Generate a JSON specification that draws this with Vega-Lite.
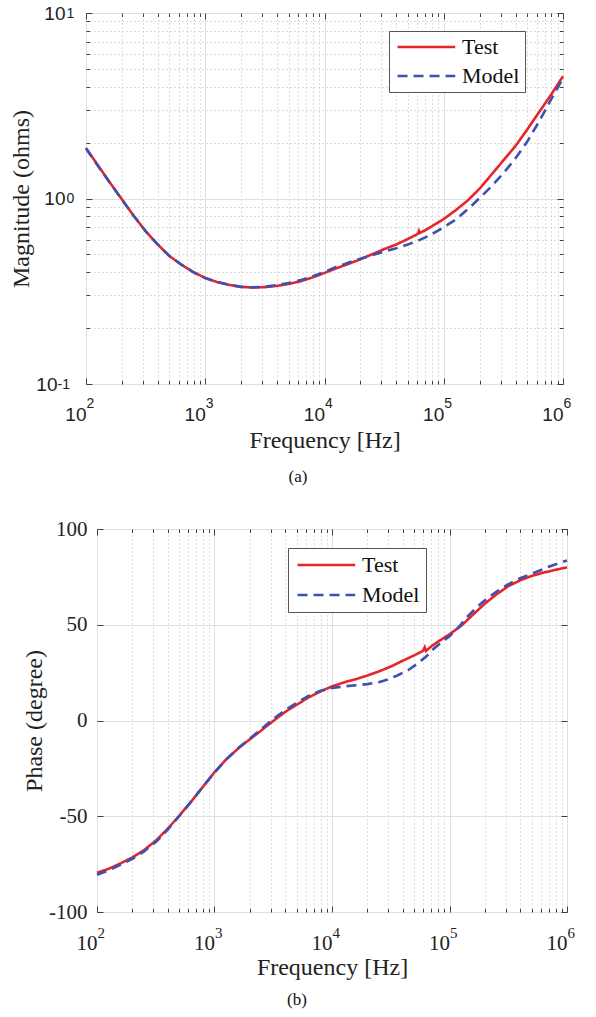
{
"$schema": "https://vega.github.io/schema/vega-lite/v6.json",
"padding": {"left": 0, "top": 3, "right": 0, "bottom": 0},
"background": "white",
"datasets": {
"mag": [
{"f":100,"v":1.87,"s":"Test"},{"f":125,"v":1.52,"s":"Test"},{"f":160,"v":1.21,"s":"Test"},{"f":200,"v":0.99,"s":"Test"},{"f":250,"v":0.81,"s":"Test"},{"f":320,"v":0.66,"s":"Test"},{"f":400,"v":0.565,"s":"Test"},{"f":500,"v":0.49,"s":"Test"},{"f":630,"v":0.44,"s":"Test"},{"f":800,"v":0.4,"s":"Test"},{"f":1000,"v":0.373,"s":"Test"},{"f":1250,"v":0.355,"s":"Test"},{"f":1600,"v":0.342,"s":"Test"},{"f":2000,"v":0.334,"s":"Test"},{"f":2500,"v":0.331,"s":"Test"},{"f":3200,"v":0.333,"s":"Test"},{"f":4000,"v":0.338,"s":"Test"},{"f":5000,"v":0.346,"s":"Test"},{"f":6300,"v":0.358,"s":"Test"},{"f":8000,"v":0.376,"s":"Test"},{"f":10000,"v":0.397,"s":"Test"},{"f":12500,"v":0.42,"s":"Test"},{"f":16000,"v":0.445,"s":"Test"},{"f":20000,"v":0.47,"s":"Test"},{"f":25000,"v":0.5,"s":"Test"},{"f":32000,"v":0.535,"s":"Test"},{"f":40000,"v":0.565,"s":"Test"},{"f":50000,"v":0.605,"s":"Test"},{"f":58000,"v":0.635,"s":"Test"},{"f":61000,"v":0.648,"s":"Test"},{"f":62000,"v":0.668,"s":"Test"},{"f":63000,"v":0.652,"s":"Test"},{"f":70000,"v":0.675,"s":"Test"},{"f":80000,"v":0.71,"s":"Test"},{"f":100000,"v":0.775,"s":"Test"},{"f":126000,"v":0.865,"s":"Test"},{"f":160000,"v":0.98,"s":"Test"},{"f":200000,"v":1.13,"s":"Test"},{"f":250000,"v":1.34,"s":"Test"},{"f":320000,"v":1.62,"s":"Test"},{"f":400000,"v":1.92,"s":"Test"},{"f":500000,"v":2.35,"s":"Test"},{"f":630000,"v":2.92,"s":"Test"},{"f":800000,"v":3.65,"s":"Test"},{"f":1000000,"v":4.56,"s":"Test"},
{"f":100,"v":1.86,"s":"Model"},{"f":125,"v":1.51,"s":"Model"},{"f":160,"v":1.205,"s":"Model"},{"f":200,"v":0.985,"s":"Model"},{"f":250,"v":0.81,"s":"Model"},{"f":320,"v":0.66,"s":"Model"},{"f":400,"v":0.565,"s":"Model"},{"f":500,"v":0.49,"s":"Model"},{"f":630,"v":0.44,"s":"Model"},{"f":800,"v":0.4,"s":"Model"},{"f":1000,"v":0.373,"s":"Model"},{"f":1250,"v":0.355,"s":"Model"},{"f":1600,"v":0.342,"s":"Model"},{"f":2000,"v":0.334,"s":"Model"},{"f":2500,"v":0.332,"s":"Model"},{"f":3200,"v":0.335,"s":"Model"},{"f":4000,"v":0.341,"s":"Model"},{"f":5000,"v":0.35,"s":"Model"},{"f":6300,"v":0.363,"s":"Model"},{"f":8000,"v":0.381,"s":"Model"},{"f":10000,"v":0.402,"s":"Model"},{"f":12500,"v":0.427,"s":"Model"},{"f":16000,"v":0.452,"s":"Model"},{"f":20000,"v":0.474,"s":"Model"},{"f":25000,"v":0.495,"s":"Model"},{"f":32000,"v":0.518,"s":"Model"},{"f":40000,"v":0.54,"s":"Model"},{"f":50000,"v":0.565,"s":"Model"},{"f":63000,"v":0.598,"s":"Model"},{"f":77000,"v":0.635,"s":"Model"},{"f":100000,"v":0.7,"s":"Model"},{"f":128000,"v":0.775,"s":"Model"},{"f":170000,"v":0.91,"s":"Model"},{"f":244000,"v":1.14,"s":"Model"},{"f":320000,"v":1.38,"s":"Model"},{"f":400000,"v":1.65,"s":"Model"},{"f":500000,"v":2.02,"s":"Model"},{"f":630000,"v":2.6,"s":"Model"},{"f":800000,"v":3.45,"s":"Model"},{"f":1000000,"v":4.45,"s":"Model"}
],
"ph": [
{"f":100,"v":-79.5,"s":"Test"},{"f":125,"v":-77.5,"s":"Test"},{"f":160,"v":-74.5,"s":"Test"},{"f":200,"v":-71.5,"s":"Test"},{"f":250,"v":-67.8,"s":"Test"},{"f":320,"v":-62.5,"s":"Test"},{"f":400,"v":-56.5,"s":"Test"},{"f":500,"v":-49.8,"s":"Test"},{"f":630,"v":-42.5,"s":"Test"},{"f":800,"v":-34.5,"s":"Test"},{"f":1000,"v":-27,"s":"Test"},{"f":1250,"v":-20.5,"s":"Test"},{"f":1600,"v":-14.5,"s":"Test"},{"f":2000,"v":-9.8,"s":"Test"},{"f":2500,"v":-5.2,"s":"Test"},{"f":3200,"v":0,"s":"Test"},{"f":4000,"v":4.5,"s":"Test"},{"f":5000,"v":8.2,"s":"Test"},{"f":6300,"v":12,"s":"Test"},{"f":8000,"v":15.2,"s":"Test"},{"f":10000,"v":17.8,"s":"Test"},{"f":12500,"v":19.8,"s":"Test"},{"f":16000,"v":21.6,"s":"Test"},{"f":20000,"v":23.5,"s":"Test"},{"f":25000,"v":25.6,"s":"Test"},{"f":32000,"v":28.3,"s":"Test"},{"f":40000,"v":31.2,"s":"Test"},{"f":50000,"v":34,"s":"Test"},{"f":58000,"v":36,"s":"Test"},{"f":60000,"v":36.8,"s":"Test"},{"f":61500,"v":38.2,"s":"Test"},{"f":63000,"v":36.3,"s":"Test"},{"f":70000,"v":38.7,"s":"Test"},{"f":80000,"v":41.2,"s":"Test"},{"f":100000,"v":45,"s":"Test"},{"f":126000,"v":49.5,"s":"Test"},{"f":160000,"v":55.5,"s":"Test"},{"f":200000,"v":61,"s":"Test"},{"f":250000,"v":65.8,"s":"Test"},{"f":320000,"v":70.3,"s":"Test"},{"f":400000,"v":73.2,"s":"Test"},{"f":500000,"v":75.5,"s":"Test"},{"f":630000,"v":77.2,"s":"Test"},{"f":800000,"v":78.7,"s":"Test"},{"f":1000000,"v":80,"s":"Test"},
{"f":100,"v":-80.5,"s":"Model"},{"f":125,"v":-78.3,"s":"Model"},{"f":160,"v":-75.2,"s":"Model"},{"f":200,"v":-72.2,"s":"Model"},{"f":250,"v":-68.5,"s":"Model"},{"f":320,"v":-63.2,"s":"Model"},{"f":400,"v":-57,"s":"Model"},{"f":500,"v":-50,"s":"Model"},{"f":630,"v":-42.5,"s":"Model"},{"f":800,"v":-34.5,"s":"Model"},{"f":1000,"v":-27.2,"s":"Model"},{"f":1250,"v":-20.5,"s":"Model"},{"f":1600,"v":-14.2,"s":"Model"},{"f":2000,"v":-9.5,"s":"Model"},{"f":2500,"v":-4.5,"s":"Model"},{"f":3200,"v":1,"s":"Model"},{"f":4000,"v":5.5,"s":"Model"},{"f":5000,"v":9.2,"s":"Model"},{"f":6300,"v":12.8,"s":"Model"},{"f":8000,"v":15.5,"s":"Model"},{"f":10000,"v":17,"s":"Model"},{"f":13000,"v":17.9,"s":"Model"},{"f":16000,"v":18.4,"s":"Model"},{"f":20000,"v":19,"s":"Model"},{"f":25000,"v":20,"s":"Model"},{"f":30000,"v":21.5,"s":"Model"},{"f":36000,"v":23.5,"s":"Model"},{"f":45000,"v":26.5,"s":"Model"},{"f":53000,"v":29.6,"s":"Model"},{"f":63000,"v":33.3,"s":"Model"},{"f":73000,"v":37.3,"s":"Model"},{"f":85000,"v":40.8,"s":"Model"},{"f":100000,"v":44,"s":"Model"},{"f":120000,"v":48.8,"s":"Model"},{"f":141000,"v":54,"s":"Model"},{"f":170000,"v":59,"s":"Model"},{"f":208000,"v":63.6,"s":"Model"},{"f":250000,"v":67.2,"s":"Model"},{"f":309000,"v":70.8,"s":"Model"},{"f":400000,"v":74.3,"s":"Model"},{"f":520000,"v":77,"s":"Model"},{"f":700000,"v":80.3,"s":"Model"},{"f":1000000,"v":83.6,"s":"Model"}
],
"blank": [{"a": 0}]
},
"columns": 2,
"align": "none",
"spacing": {"row": 31, "column": 0},
"resolve": {"scale": {"x": "independent", "y": "independent", "color": "independent", "strokeDash": "independent"}, "legend": {"color": "independent", "strokeDash": "independent"}, "axis": {"x": "independent", "y": "independent"}},
"concat": [
{"width": 1, "height": 1, "view": {"stroke": null}, "data": {"name": "blank"}, "mark": {"type": "point", "opacity": 0, "size": 0, "strokeWidth": 0}, "encoding": {}},
{
"width": 477, "height": 371,
"data": {"name": "mag"},
"title": {"text": "(a)", "orient": "bottom", "frame": "group", "anchor": "middle", "dx": -26.5, "offset": 17, "font": "Liberation Serif", "fontSize": 17, "fontWeight": "normal", "color": "#111"},
"resolve": {"axis": {"x": "independent", "y": "independent"}},
"layer": [
{"mark": {"type": "point", "opacity": 0},
 "encoding": {
  "x": {"field": "f", "type": "quantitative", "scale": {"type": "log", "domain": [100, 1000000], "nice": false},
        "axis": {"orient": "bottom", "values": [100, 1000, 10000, 100000, 1000000], "grid": true, "gridColor": "#e0e0e0", "ticks": false, "labelExpr": "'10'", "labelFont": "Liberation Sans", "labelFontSize": 19, "labelAlign": "right", "labelDx": 4.5, "labelBaseline": "top", "labelPadding": 21, "title": "Frequency [Hz]", "titleFont": "Liberation Serif", "titleFontSize": 24, "titlePadding": 4}},
  "y": {"field": "v", "type": "quantitative", "scale": {"type": "log", "domain": [0.1, 10], "nice": false},
        "axis": {"orient": "left", "values": [0.1, 1, 10], "grid": true, "gridColor": "#e0e0e0", "ticks": false, "labelExpr": "'10'", "labelFont": "Liberation Sans", "labelFontSize": 19, "labelAlign": "right", "labelBaseline": "middle", "labelDy": 3, "labelPadding": {"condition": {"test": "datum.value < 0.5", "value": 29}, "value": 21}, "title": "Magnitude (ohms)", "titleFont": "Liberation Serif", "titleFontSize": 24, "titlePadding": 2}}
 }},
{"mark": {"type": "point", "opacity": 0},
 "encoding": {
  "x": {"field": "f", "type": "quantitative", "axis": {"orient": "bottom", "values": [100, 1000, 10000, 100000, 1000000], "grid": false, "ticks": false, "labelExpr": "''+round(log(datum.value)/LN10)", "labelFont": "Liberation Sans", "labelFontSize": 14, "labelAlign": "left", "labelDx": 5, "labelBaseline": "middle", "labelPadding": 19, "title": null}},
  "y": {"field": "v", "type": "quantitative", "axis": {"orient": "left", "values": [0.1, 1, 10], "grid": false, "ticks": false, "labelExpr": "''+round(log(datum.value)/LN10)", "labelFont": "Liberation Sans", "labelFontSize": 14, "labelAlign": "left", "labelBaseline": "middle", "labelDy": -7, "labelPadding": {"condition": {"test": "datum.value < 0.5", "value": 29}, "value": 20}, "title": null}}
 }},
{"mark": {"type": "point", "opacity": 0},
 "encoding": {
  "x": {"field": "f", "type": "quantitative", "axis": {"orient": "top", "values": [100,200,300,400,500,600,700,800,900,1000,2000,3000,4000,5000,6000,7000,8000,9000,10000,20000,30000,40000,50000,60000,70000,80000,90000,100000,200000,300000,400000,500000,600000,700000,800000,900000,1000000], "grid": true, "gridColor": "#bdbdbd", "gridDash": [1, 3], "gridOpacity": {"condition": {"test": "abs(log(datum.value)/LN10 - round(log(datum.value)/LN10)) < 0.001", "value": 0}, "value": 1}, "ticks": true, "tickSize": {"condition": {"test": "abs(log(datum.value)/LN10 - round(log(datum.value)/LN10)) < 0.001", "value": -6}, "value": -3.5}, "labels": false, "title": null}},
  "y": {"field": "v", "type": "quantitative", "axis": {"orient": "right", "values": [0.1,0.2,0.3,0.4,0.5,0.6,0.7,0.8,0.9,1,2,3,4,5,6,7,8,9,10], "grid": true, "gridColor": "#bdbdbd", "gridDash": [1, 3], "gridOpacity": {"condition": {"test": "abs(log(datum.value)/LN10 - round(log(datum.value)/LN10)) < 0.001", "value": 0}, "value": 1}, "ticks": true, "tickSize": {"condition": {"test": "abs(log(datum.value)/LN10 - round(log(datum.value)/LN10)) < 0.001", "value": -6}, "value": -3.5}, "labels": false, "title": null}}
 }},
{"mark": {"type": "point", "opacity": 0},
 "encoding": {
  "x": {"field": "f", "type": "quantitative", "axis": {"orient": "bottom", "values": [100,200,300,400,500,600,700,800,900,1000,2000,3000,4000,5000,6000,7000,8000,9000,10000,20000,30000,40000,50000,60000,70000,80000,90000,100000,200000,300000,400000,500000,600000,700000,800000,900000,1000000], "grid": false, "ticks": true, "tickSize": {"condition": {"test": "abs(log(datum.value)/LN10 - round(log(datum.value)/LN10)) < 0.001", "value": -6}, "value": -3.5}, "labels": false, "title": null}},
  "y": {"field": "v", "type": "quantitative", "axis": {"orient": "left", "values": [0.1,0.2,0.3,0.4,0.5,0.6,0.7,0.8,0.9,1,2,3,4,5,6,7,8,9,10], "grid": false, "ticks": true, "tickSize": {"condition": {"test": "abs(log(datum.value)/LN10 - round(log(datum.value)/LN10)) < 0.001", "value": -6}, "value": -3.5}, "labels": false, "title": null}}
 }},
{"transform": [{"filter": "datum.s == 'Test'"}],
 "mark": {"type": "line", "strokeWidth": 2.6},
 "encoding": {
  "x": {"field": "f", "type": "quantitative", "axis": null},
  "y": {"field": "v", "type": "quantitative", "axis": {"orient": "left", "values": [10], "grid": false, "labels": false, "ticks": true, "tickSize": 84, "tickOpacity": 0, "title": null}},
  "color": {"field": "s", "type": "nominal", "scale": {"domain": ["Test", "Model"], "range": ["#E8242B", "#3F51AE"]}, "legend": {"orient": "none", "legendX": 303, "legendY": 18, "title": null, "symbolType": "M-1,0H6.7", "symbolSize": 225, "symbolStrokeWidth": 2.6, "labelFont": "Liberation Serif", "labelFontSize": 22, "labelColor": "#111", "labelOffset": 46, "padding": 5, "rowPadding": 7, "strokeColor": "#555", "fillColor": "white"}},
  "strokeDash": {"field": "s", "type": "nominal", "scale": {"domain": ["Test", "Model"], "range": [[1, 0], [10, 6]]}, "legend": {"orient": "none", "legendX": 303, "legendY": 18, "title": null, "symbolType": "M-1,0H6.7", "symbolSize": 225, "symbolStrokeWidth": 2.6, "labelFont": "Liberation Serif", "labelFontSize": 22, "labelColor": "#111", "labelOffset": 46, "padding": 5, "rowPadding": 7, "strokeColor": "#555", "fillColor": "white"}}
 }},
{"transform": [{"filter": "datum.s == 'Model'"}],
 "mark": {"type": "line", "strokeWidth": 2.6},
 "encoding": {
  "x": {"field": "f", "type": "quantitative", "axis": null},
  "y": {"field": "v", "type": "quantitative", "axis": null},
  "color": {"field": "s", "type": "nominal"},
  "strokeDash": {"field": "s", "type": "nominal"}
 }}
]
},
{"width": 1, "height": 1, "view": {"stroke": null}, "data": {"name": "blank"}, "mark": {"type": "point", "opacity": 0, "size": 0, "strokeWidth": 0}, "encoding": {}},
{
"width": 470, "height": 383,
"data": {"name": "ph"},
"title": {"text": "(b)", "orient": "bottom", "frame": "group", "anchor": "middle", "dx": -35, "offset": 13, "font": "Liberation Serif", "fontSize": 17, "fontWeight": "normal", "color": "#111"},
"resolve": {"axis": {"x": "independent", "y": "independent"}},
"layer": [
{"mark": {"type": "point", "opacity": 0},
 "encoding": {
  "x": {"field": "f", "type": "quantitative", "scale": {"type": "log", "domain": [100, 1000000], "nice": false},
        "axis": {"orient": "bottom", "values": [100, 1000, 10000, 100000, 1000000], "grid": true, "gridColor": "#e0e0e0", "ticks": false, "labelExpr": "'10'", "labelFont": "Liberation Serif", "labelFontSize": 21, "labelAlign": "right", "labelDx": 4.5, "labelBaseline": "top", "labelPadding": 20, "title": "Frequency [Hz]", "titleFont": "Liberation Serif", "titleFontSize": 24, "titlePadding": 2}},
  "y": {"field": "v", "type": "quantitative", "scale": {"domain": [-100, 100], "nice": false},
        "axis": {"orient": "left", "values": [-100, -50, 0, 50, 100], "grid": true, "gridColor": "#e0e0e0", "ticks": false, "labelExpr": "''+datum.value", "labelFont": "Liberation Serif", "labelFontSize": 21, "labelAlign": "right", "labelBaseline": "middle", "labelDy": 2, "labelPadding": 10, "title": "Phase (degree)", "titleFont": "Liberation Serif", "titleFontSize": 24, "titlePadding": 2}}
 }},
{"mark": {"type": "point", "opacity": 0},
 "encoding": {
  "x": {"field": "f", "type": "quantitative", "axis": {"orient": "bottom", "values": [100, 1000, 10000, 100000, 1000000], "grid": false, "ticks": false, "labelExpr": "''+round(log(datum.value)/LN10)", "labelFont": "Liberation Serif", "labelFontSize": 15, "labelAlign": "left", "labelDx": 5, "labelBaseline": "middle", "labelPadding": 20, "title": null}},
  "y": {"field": "v", "type": "quantitative", "axis": {"orient": "left", "values": [100], "grid": false, "labels": false, "ticks": true, "tickSize": 95, "tickOpacity": 0, "title": null}}
 }},
{"mark": {"type": "point", "opacity": 0},
 "encoding": {
  "x": {"field": "f", "type": "quantitative", "axis": {"orient": "top", "values": [100,200,300,400,500,600,700,800,900,1000,2000,3000,4000,5000,6000,7000,8000,9000,10000,20000,30000,40000,50000,60000,70000,80000,90000,100000,200000,300000,400000,500000,600000,700000,800000,900000,1000000], "grid": true, "gridColor": "#bdbdbd", "gridDash": [1, 3], "gridOpacity": {"condition": {"test": "abs(log(datum.value)/LN10 - round(log(datum.value)/LN10)) < 0.001", "value": 0}, "value": 1}, "ticks": true, "tickSize": {"condition": {"test": "abs(log(datum.value)/LN10 - round(log(datum.value)/LN10)) < 0.001", "value": -6}, "value": -3.5}, "labels": false, "title": null}},
  "y": {"field": "v", "type": "quantitative", "axis": {"orient": "right", "values": [-100, -50, 0, 50, 100], "grid": false, "ticks": true, "tickSize": -6, "labels": false, "title": null}}
 }},
{"mark": {"type": "point", "opacity": 0},
 "encoding": {
  "x": {"field": "f", "type": "quantitative", "axis": {"orient": "bottom", "values": [100,200,300,400,500,600,700,800,900,1000,2000,3000,4000,5000,6000,7000,8000,9000,10000,20000,30000,40000,50000,60000,70000,80000,90000,100000,200000,300000,400000,500000,600000,700000,800000,900000,1000000], "grid": false, "ticks": true, "tickSize": {"condition": {"test": "abs(log(datum.value)/LN10 - round(log(datum.value)/LN10)) < 0.001", "value": -6}, "value": -3.5}, "labels": false, "title": null}},
  "y": {"field": "v", "type": "quantitative", "axis": {"orient": "left", "values": [-100, -50, 0, 50, 100], "grid": false, "ticks": true, "tickSize": -6, "labels": false, "title": null}}
 }},
{"transform": [{"filter": "datum.s == 'Test'"}],
 "mark": {"type": "line", "strokeWidth": 2.6},
 "encoding": {
  "x": {"field": "f", "type": "quantitative", "axis": null},
  "y": {"field": "v", "type": "quantitative", "axis": null},
  "color": {"field": "s", "type": "nominal", "scale": {"domain": ["Test", "Model"], "range": ["#E8242B", "#3F51AE"]}, "legend": {"orient": "none", "legendX": 191, "legendY": 19, "title": null, "symbolType": "M-1,0H6.7", "symbolSize": 225, "symbolStrokeWidth": 2.6, "labelFont": "Liberation Serif", "labelFontSize": 22, "labelColor": "#111", "labelOffset": 46, "padding": 6, "rowPadding": 8, "strokeColor": "#555", "fillColor": "white"}},
  "strokeDash": {"field": "s", "type": "nominal", "scale": {"domain": ["Test", "Model"], "range": [[1, 0], [10, 6]]}, "legend": {"orient": "none", "legendX": 191, "legendY": 19, "title": null, "symbolType": "M-1,0H6.7", "symbolSize": 225, "symbolStrokeWidth": 2.6, "labelFont": "Liberation Serif", "labelFontSize": 22, "labelColor": "#111", "labelOffset": 46, "padding": 6, "rowPadding": 8, "strokeColor": "#555", "fillColor": "white"}}
 }},
{"transform": [{"filter": "datum.s == 'Model'"}],
 "mark": {"type": "line", "strokeWidth": 2.6},
 "encoding": {
  "x": {"field": "f", "type": "quantitative", "axis": null},
  "y": {"field": "v", "type": "quantitative", "axis": null},
  "color": {"field": "s", "type": "nominal"},
  "strokeDash": {"field": "s", "type": "nominal"}
 }}
]
}
],
"config": {
 "view": {"stroke": "#4a4a4a", "strokeWidth": 1},
 "axis": {"domain": false, "labelFlush": false, "labelOverlap": false, "titleFontWeight": "normal", "labelColor": "#222", "titleColor": "#222", "tickColor": "#404040", "tickWidth": 1},
 "legend": {"symbolFillColor": "transparent"}
}
}
